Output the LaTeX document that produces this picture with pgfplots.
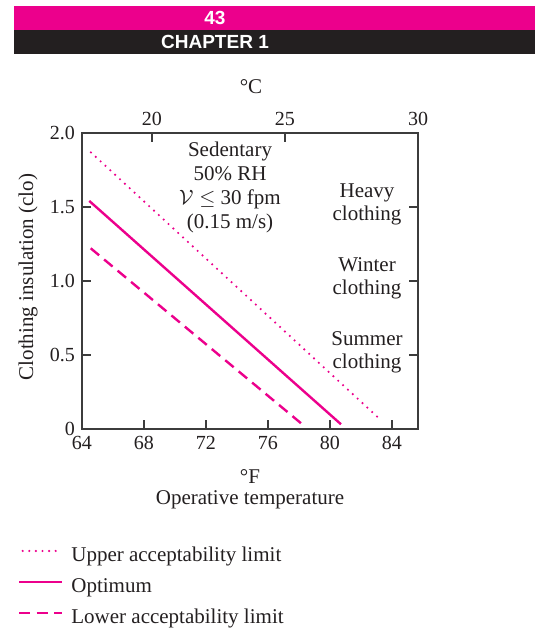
\documentclass[border=0pt]{standalone}
\usepackage{fontspec}
\setmainfont{Liberation Serif}
\newfontfamily\hdr{Liberation Sans}
\usepackage{pgfplots}
\pgfplotsset{compat=1.18}
\definecolor{mag}{HTML}{EC008C}
\definecolor{dk}{HTML}{231F20}
\definecolor{axc}{HTML}{3C3C3C}
\begin{document}
\fontsize{21}{24}\selectfont
\color{dk}
\begin{tikzpicture}
\begin{scope}[x=1pt,y=1pt]
\path[use as bounding box] (0,0) rectangle (535,629);
\fill[mag] (14,599) rectangle (535,623);
\fill[dk] (14,575) rectangle (535,599);
\node[text=white,font=\hdr\bfseries\fontsize{19}{22}\selectfont] at (215,611) {43};
\node[text=white,font=\hdr\bfseries\fontsize{19}{22}\selectfont] at (215,587) {CHAPTER 1};
\node at (251,542) {°C};
\node at (250,152) {°F};
\node at (250,129) {Operative temperature};
\node[rotate=90] at (28,352) {Clothing insulation (clo)};
\end{scope}
\begin{axis}[
  at={(82pt,200pt)}, anchor=south west,
  scale only axis, width=336pt, height=296pt,
  xmin=17.37, xmax=30, ymin=0, ymax=2,
  xtick={20,25,30}, xtick pos=upper, ytick=\empty,
  tick align=inside, major tick length=9pt,
  axis line style={axc, line width=1.2pt},
  tick style={axc, line width=1.2pt},
  tick label style={font=\fontsize{20}{22}\selectfont, text=dk},
  /pgf/number format/assume math mode=true,
]
\end{axis}
\begin{axis}[
  at={(82pt,200pt)}, anchor=south west,
  scale only axis, width=336pt, height=296pt,
  xmin=64, xmax=85.68, ymin=0, ymax=2,
  xtick={64,68,72,76,80,84}, xtick pos=lower,
  ytick={0,0.5,1,1.5,2}, yticklabels={0,0.5,1.0,1.5,2.0},
  ytick pos=both,
  tick align=inside, major tick length=9pt,
  axis line style={axc, line width=1.2pt},
  tick style={axc, line width=1.2pt},
  tick label style={font=\fontsize{20}{22}\selectfont, text=dk},
  /pgf/number format/assume math mode=true,
  clip=false,
  legend style={at={(-0.1905,-0.3986)}, anchor=north west, draw=none, fill=none,
    inner sep=0pt, outer sep=0pt, row sep=11pt, column sep=8pt,
    nodes={inner sep=0pt, text height=15pt, text depth=5pt, font=\fontsize{21}{24}\selectfont}},
  legend cell align=left,
  legend image code/.code={\draw[#1] (0pt,6pt) -- (43pt,6pt);},
]
\addplot[mag, line width=2.4pt, line cap=round, dash pattern=on 0pt off 6.6pt, dash phase=-3.5pt] coordinates {(64.41,1.885) (83.33,0.056)};
\addlegendentry{Upper acceptability limit}
\addplot[mag, line width=2.4pt] coordinates {(64.47,1.541) (80.71,0.032)};
\addlegendentry{Optimum}
\addplot[mag, line width=2.4pt, dash pattern=on 11pt off 6.5pt] coordinates {(64.56,1.221) (78.21,0.032)};
\addlegendentry{Lower acceptability limit}
\node[align=center, font=\fontsize{21}{24}\selectfont] at (axis cs:73.55,1.632) {Sedentary\\50\% RH\\$\mathcal{V}\leq$ 30 fpm\\(0.15 m/s)};
\node[align=center, font=\fontsize{21}{23}\selectfont] at (axis cs:82.39,1.515) {Heavy\\clothing};
\node[align=center, font=\fontsize{21}{23}\selectfont] at (axis cs:82.39,1.015) {Winter\\clothing};
\node[align=center, font=\fontsize{21}{23}\selectfont] at (axis cs:82.39,0.515) {Summer\\clothing};
\end{axis}
\end{tikzpicture}
\end{document}
